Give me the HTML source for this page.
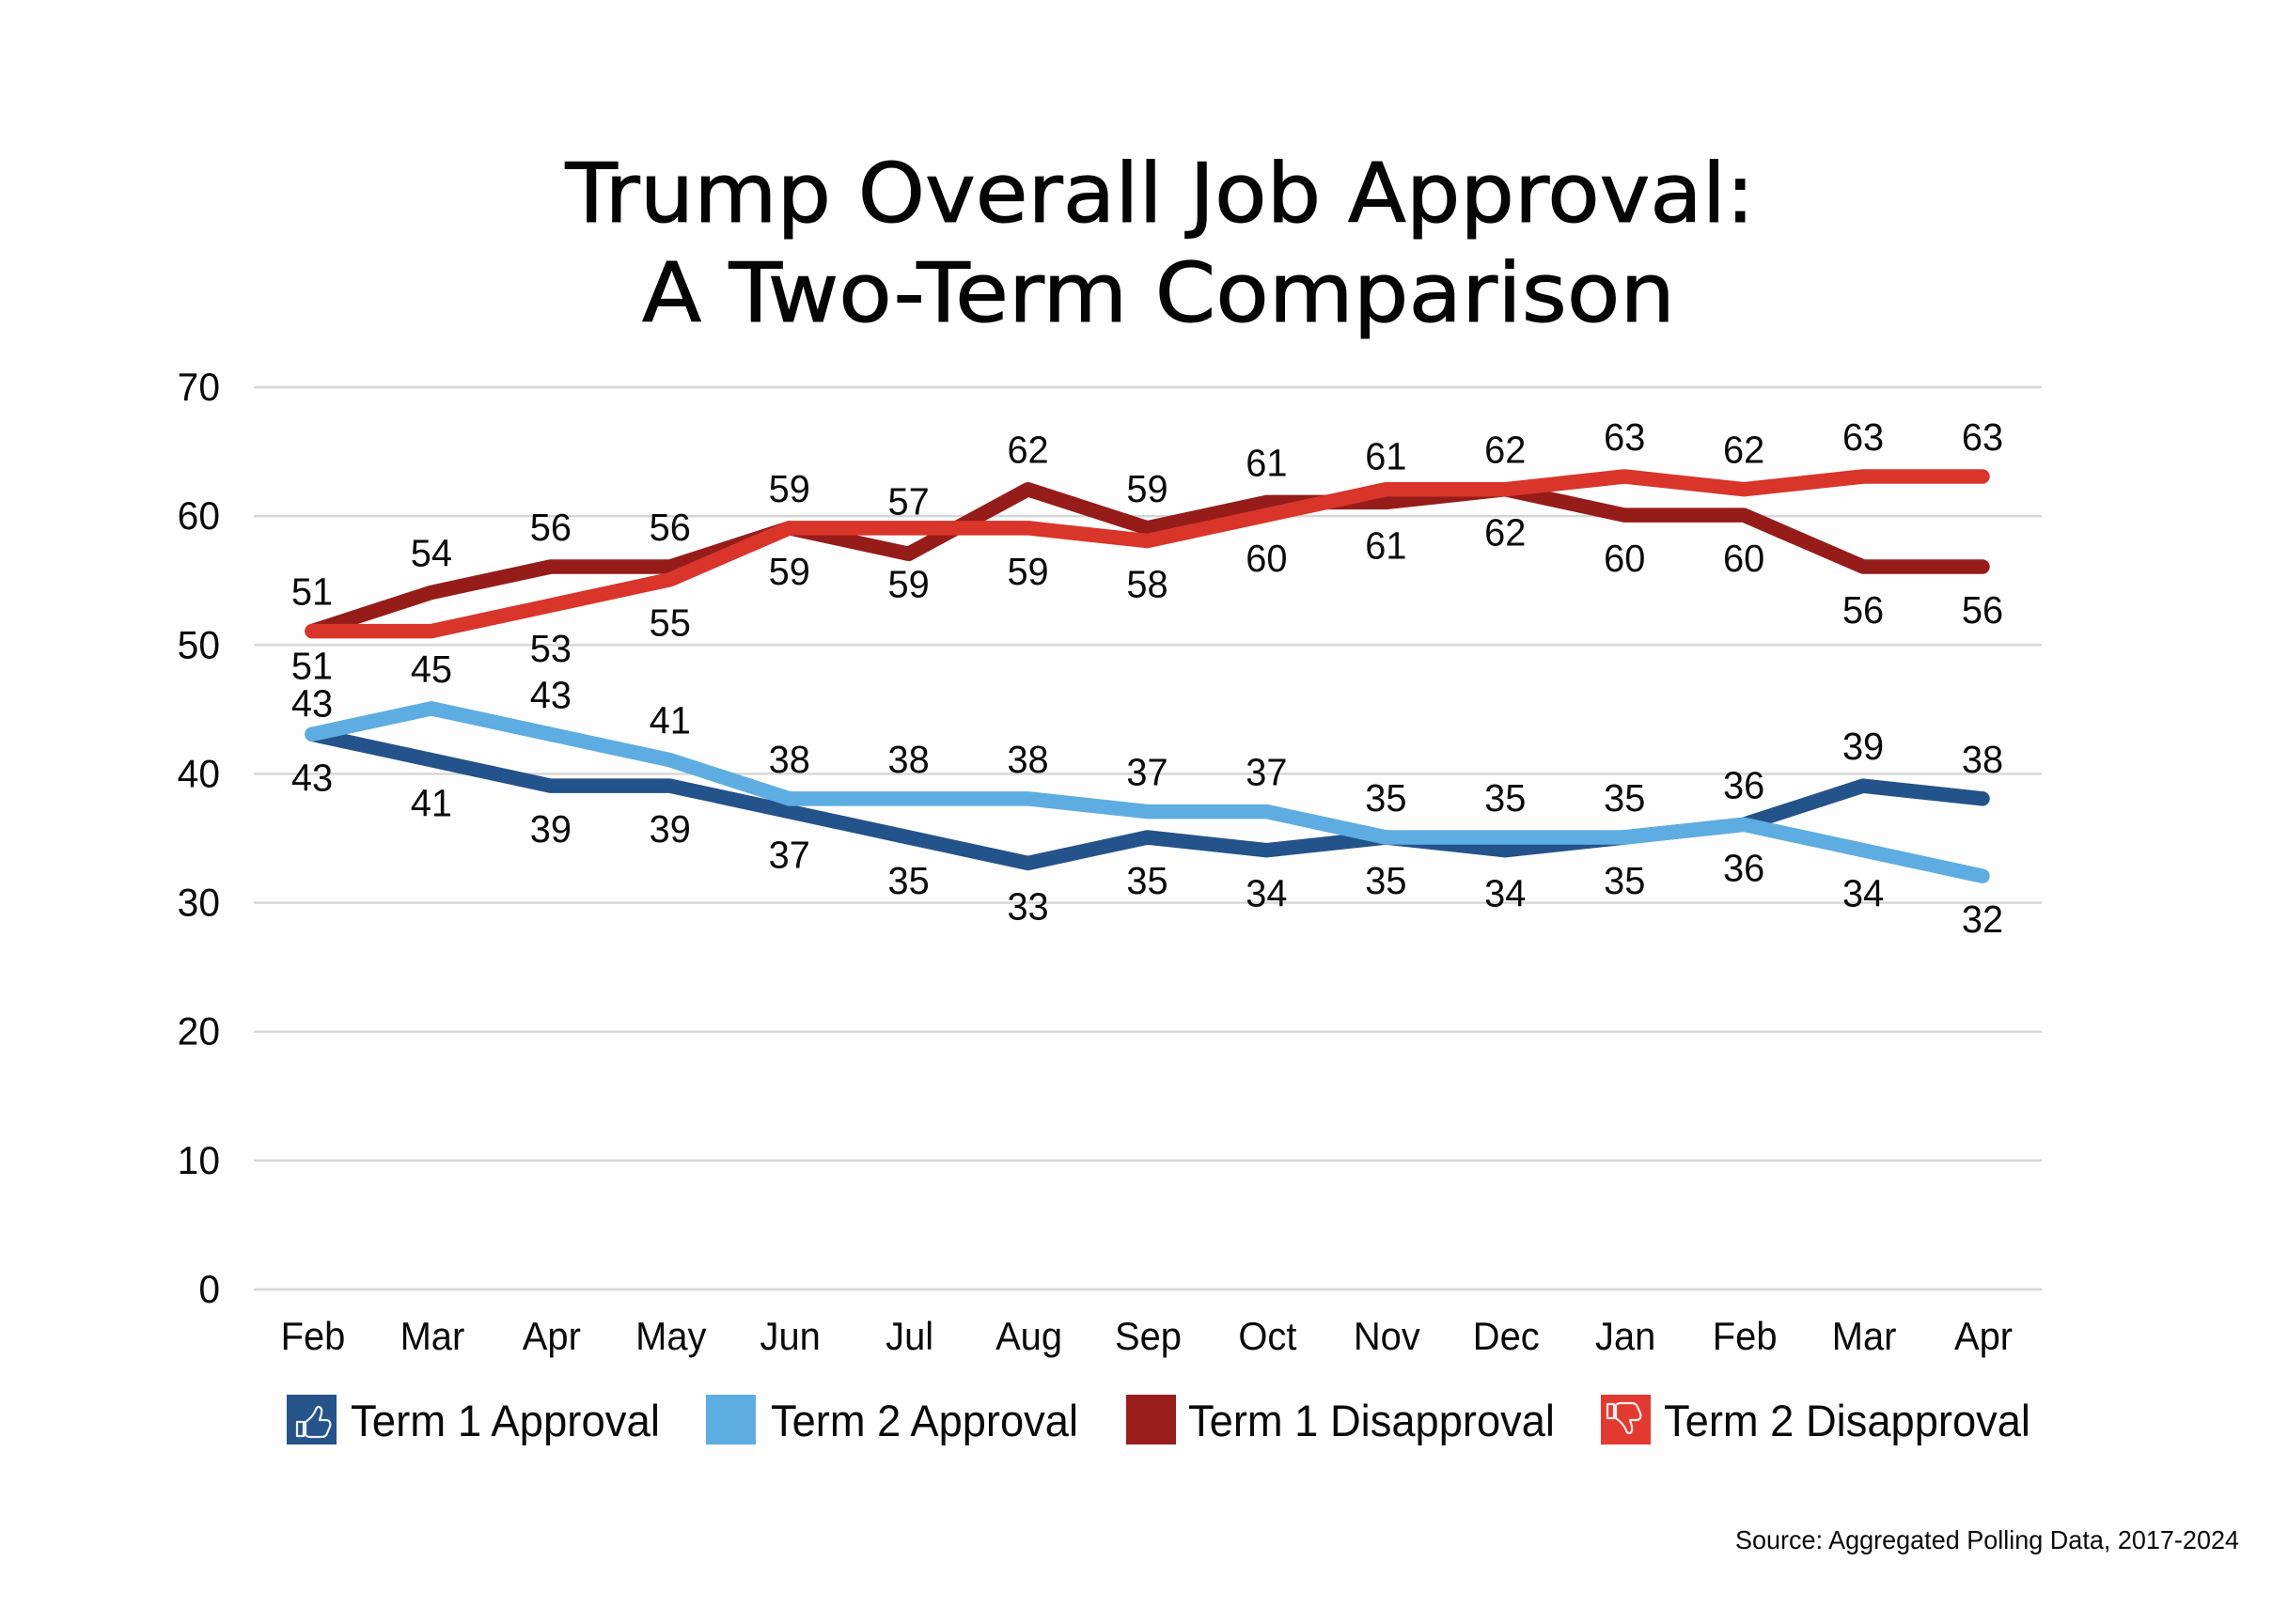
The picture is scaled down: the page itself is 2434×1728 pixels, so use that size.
<!DOCTYPE html>
<html lang="en">
<head>
<meta charset="utf-8">
<title>Trump Overall Job Approval: A Two-Term Comparison</title>
<style>
html,body{margin:0;padding:0;background:#fefefe;width:2434px;height:1728px;overflow:hidden}
svg{display:block}
text{font-family:"Liberation Sans",sans-serif;fill:#0a0a0a}
.title{font-family:"DejaVu Sans","Liberation Sans",sans-serif;font-size:87px;fill:#050505;stroke:#050505;stroke-width:1}
</style>
</head>
<body>
<svg id="chart" xmlns="http://www.w3.org/2000/svg" width="2434" height="1728" viewBox="0 0 2434 1728">
  <text class="title" x="1234" y="236" text-anchor="middle" textLength="1265" lengthAdjust="spacingAndGlyphs">Trump Overall Job Approval:</text>
  <text class="title" x="1232.5" y="342" text-anchor="middle" textLength="1099" lengthAdjust="spacingAndGlyphs">A Two-Term Comparison</text>
  <g id="grid"></g>
  <g id="yaxis"></g>
  <g id="xaxis"></g>
  <g id="lines"></g>
  <g id="labels"></g>

  <g>
    <g>
      <rect x="305" y="1484" width="53" height="53" fill="#26538a"/>
      <path d="M316 1516h7v15h-7zM325 1516c6-4 9-8 11-13 1-4 5-4 6 0 1 4-1 7-2 11h7c4 0 5 4 4 7l-3 7c-1 3-3 4-6 4h-12c-3 0-4-1-5-2z" transform="translate(0,-3)" fill="none" stroke="#eef3fa" stroke-width="2.2" stroke-linejoin="round"/>
      <text x="373" y="1528" font-size="47" textLength="329" lengthAdjust="spacingAndGlyphs">Term 1 Approval</text>
    </g>
    <g>
      <rect x="751" y="1484" width="53" height="53" fill="#5dade2"/>
      <text x="820" y="1528" font-size="47" textLength="327" lengthAdjust="spacingAndGlyphs">Term 2 Approval</text>
    </g>
    <g>
      <rect x="1198" y="1484" width="53" height="53" fill="#981d1b"/>
      <text x="1264" y="1528" font-size="47" textLength="390" lengthAdjust="spacingAndGlyphs">Term 1 Disapproval</text>
    </g>
    <g>
      <rect x="1703" y="1484" width="53" height="53" fill="#e23a30"/>
      <path d="M1710 1494h7v15h-7zM1719 1509c6 4 9 8 11 13 1 4 5 4 6 0 1-4-1-7-2-11h7c4 0 5-4 4-7l-3-7c-1-3-3-4-6-4h-12c-3 0-4 1-5 2z" fill="none" stroke="#fdeeee" stroke-width="2.2" stroke-linejoin="round"/>
      <text x="1770" y="1528" font-size="47" textLength="390" lengthAdjust="spacingAndGlyphs">Term 2 Disapproval</text>
    </g>
  </g>
  <text x="2382" y="1648" font-size="28" text-anchor="end" textLength="536" lengthAdjust="spacingAndGlyphs">Source: Aggregated Polling Data, 2017-2024</text>
</svg>
<script>
const months = ['Feb','Mar','Apr','May','Jun','Jul','Aug','Sep','Oct','Nov','Dec','Jan','Feb','Mar','Apr'];
const yTicks = [0,10,20,30,40,50,60,70];

const term1Approval    = [43,41,39,39,37,35,33,35,34,35,34,35,36,39,38];
const term2Approval    = [43,45,43,41,38,38,38,37,37,35,35,35,36,34,32];
const term1Disapproval = [51,54,56,56,59,57,62,59,61,61,62,60,60,56,56];
const term2Disapproval = [51,51,53,55,59,59,59,58,60,62,62,63,62,63,63];

/* Printed values: the picture labels a few points differently from the line (null = no label). */
const term1ApprovalLabels    = [43,41,39,39,37,35,33,35,34,35,34,35,36,39,38];
const term2ApprovalLabels    = [43,45,43,41,38,38,38,37,37,35,35,35,36,34,32];
const term1DisapprovalLabels = [51,54,56,56,59,57,62,59,61,61,62,60,60,56,56];
const term2DisapprovalLabels = [51,null,53,55,59,59,59,58,60,61,62,63,62,63,63];

/* Which side of the line each label sits on */
const term1ApprovalSides    = ['below','below','below','below','below','below','below','below','below','below','below','below','below','above','above'];
const term2ApprovalSides    = ['above','above','above','above','above','above','above','above','above','above','above','above','above','below','below'];
const term1DisapprovalSides = ['above','above','above','above','above','above','above','above','above','above','above','below','below','below','below'];
const term2DisapprovalSides = ['below','below','below','below','below','below','below','below','below','below','below','above','above','above','above'];

const NS = 'http://www.w3.org/2000/svg';
const plotLeft = 270, plotRight = 2172, plotBottom = 1372, plotTop = 412;
const firstX = 332, lastX = 2109;
const labelAbove = -29, labelBelow = 59, minLabelGap = 40;
function xScale(i){ return firstX + i * (lastX - firstX) / (months.length - 1); }
function yScale(v){ return plotBottom - v * (plotBottom - plotTop) / 70; }

function make(tag, parent, attrs, txt){
  const el = document.createElementNS(NS, tag);
  for (const k in attrs) el.setAttribute(k, attrs[k]);
  if (txt !== undefined) el.textContent = txt;
  parent.appendChild(el);
  return el;
}
/* Condense Liberation a little so its taller glyphs match the narrower original face */
function condense(el, factor){
  el.setAttribute('textLength', el.getComputedTextLength() * factor);
  el.setAttribute('lengthAdjust', 'spacingAndGlyphs');
}

const grid = document.getElementById('grid');
const yaxis = document.getElementById('yaxis');
const xaxis = document.getElementById('xaxis');
const linesG = document.getElementById('lines');
const labelsG = document.getElementById('labels');

yTicks.forEach(function(t){
  const ln = make('line', grid, {x1:plotLeft, x2:plotRight, y1:yScale(t), y2:yScale(t), stroke:'#d6d6d6', 'stroke-width':2.4});
  
  
  const lb = make('text', yaxis, {x:234, y:yScale(t)+14, 'text-anchor':'end', 'font-size':42}, String(t));
  condense(lb, 0.97);
  
  
});

months.forEach(function(m, i){
  const lb = make('text', xaxis, {x:xScale(i)+1, y:1436, 'text-anchor':'middle', 'font-size':42}, m);
  condense(lb, 0.95);
  
  
});

function drawLine(values, color, name){
  const d = values.map(function(v, i){ return (i ? 'L' : 'M') + xScale(i) + ' ' + (yScale(v) - 1); }).join(' ');
  const p = make('path', linesG, {d:d, fill:'none', stroke:color, 'stroke-width':15.5, 'stroke-linecap':'round', 'stroke-linejoin':'round'});
  
  
}
drawLine(term1Approval, '#23538a', 'line-term-1-approval');
drawLine(term2Approval, '#5dade2', 'line-term-2-approval');
drawLine(term1Disapproval, '#961c19', 'line-term-1-disapproval');
drawLine(term2Disapproval, '#d9352b', 'line-term-2-disapproval');

function drawLabels(printed, sides, name, anchorFor, shiftFor){
  printed.forEach(function(v, i){
    if (v === null) return;
    const dy = sides[i] === 'above' ? labelAbove : labelBelow;
    const t = make('text', labelsG, {x:xScale(i), y:yScale(anchorFor(v, i)) + dy + shiftFor(i), 'text-anchor':'middle', 'font-size':41}, String(v));
    condense(t, 0.97);
    
    
  });
}
/* Where the lower red label and upper blue label crowd each other, push them apart */
function crowding(i){
  if (term2DisapprovalLabels[i] === null) return 0;
  const redY = yScale(term2DisapprovalLabels[i]) + labelBelow;
  const blueY = yScale(term2ApprovalLabels[i]) + labelAbove;
  const gap = blueY - redY;
  return (term2DisapprovalSides[i] === 'below' && term2ApprovalSides[i] === 'above' && gap < minLabelGap) ? (minLabelGap - gap) / 2 : 0;
}
function ownValue(v){ return v; }
function noShift(){ return 0; }
drawLabels(term1ApprovalLabels, term1ApprovalSides, 'term-1-approval', ownValue, noShift);
drawLabels(term2ApprovalLabels, term2ApprovalSides, 'term-2-approval', ownValue, crowding);
/* Labels nudge halfway toward the other disapproval line when it runs past them */
drawLabels(term1DisapprovalLabels, term1DisapprovalSides, 'term-1-disapproval',
  function(v, i){ return term1DisapprovalSides[i] === 'above' ? (v + Math.max(v, term2Disapproval[i])) / 2 : v; },
  noShift);
drawLabels(term2DisapprovalLabels, term2DisapprovalSides, 'term-2-disapproval',
  function(v, i){ return term2DisapprovalSides[i] === 'below' ? (v + Math.min(v, term1Disapproval[i])) / 2 : v; },
  function(i){ return -crowding(i); });
</script>
</body>
</html>
